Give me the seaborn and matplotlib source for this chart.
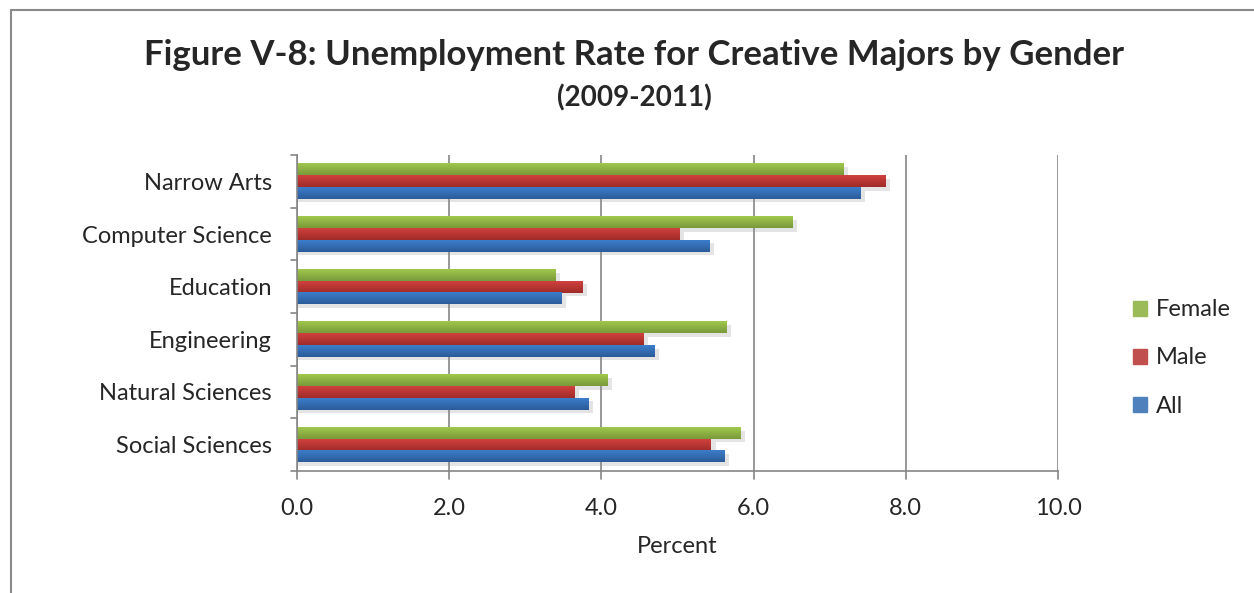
import numpy as np
import pandas as pd
import matplotlib
matplotlib.use("Agg")
import matplotlib.pyplot as plt
from matplotlib.colors import LinearSegmentedColormap
from matplotlib.lines import Line2D
import seaborn as sns

# Unemployment rate (%) by major and gender, 2009-2011
majors = ["Narrow Arts", "Computer Science", "Education",
          "Engineering", "Natural Sciences", "Social Sciences"]
female = [7.18, 6.51, 3.40, 5.64, 4.08, 5.83]
male = [7.73, 5.02, 3.75, 4.55, 3.65, 5.44]
all_grads = [7.40, 5.42, 3.48, 4.70, 3.83, 5.62]
groups = ["Female", "Male", "All"]
x_ticks = [0.0, 2.0, 4.0, 6.0, 8.0, 10.0]

df = pd.DataFrame({
    "Major": majors * 3,
    "Group": ["Female"] * 6 + ["Male"] * 6 + ["All"] * 6,
    "Rate": female + male + all_grads,
})

palette = {"Female": "#9BBB59", "Male": "#C0504D", "All": "#4F81BD"}
# top / bottom shades for the bar gradients
shades = {
    "Female": ("#a0c84c", "#7a993a"),
    "Male": ("#d0413e", "#a02b29"),
    "All": ("#3c7dca", "#2b5c9a"),
}

sns.set_theme(style="white")
plt.rcParams["font.family"] = ["Lato", "DejaVu Sans"]

fig = plt.figure(figsize=(12.54, 5.93), dpi=100)
ax = fig.add_axes([297 / 1254, 1 - 471 / 593, 761 / 1254, 316 / 593])

sns.barplot(data=df, y="Major", x="Rate", hue="Group", order=majors,
            hue_order=groups, palette=palette, orient="h", width=0.667,
            saturation=1, ax=ax, legend=True, edgecolor="none")

# vertical gradient + soft shadow on each bar
for container, g in zip(ax.containers, groups):
    cmap = LinearSegmentedColormap.from_list(g, [shades[g][0], shades[g][1]])
    for bar in container:
        x0, y0 = bar.get_x(), bar.get_y()
        w, h = bar.get_width(), bar.get_height()
        ax.add_patch(plt.Rectangle((x0, y0 + h * 0.3), w + 0.06, h,
                                   color="#c4c4c4", alpha=0.45, lw=0,
                                   zorder=bar.get_zorder() - 0.5))
        grad = np.linspace(0, 1, 64).reshape(-1, 1)
        ax.imshow(grad, cmap=cmap, aspect="auto",
                  extent=(x0, x0 + w, y0 + h, y0),
                  zorder=bar.get_zorder() + 0.1, interpolation="bilinear")

ax.set_xlim(0, 10)
ax.set_ylim(len(majors) - 0.5, -0.5)
ax.set_xticks(x_ticks)
ax.set_xticklabels([f"{v:.1f}" for v in x_ticks], fontsize=17)
ax.set_yticks(np.arange(len(majors)))
ax.set_yticklabels(majors, fontsize=17)
ax.tick_params(axis="y", length=0, pad=18)
ax.tick_params(axis="x", length=0, pad=19.5)
ax.set_xlabel("Percent", fontsize=17, labelpad=12)
ax.set_ylabel("")

# category separator ticks on the left axis, and ticks below the x axis
for yb in np.arange(-0.5, len(majors), 1.0):
    ax.plot([-0.08, 0], [yb, yb], color="#868686", lw=1.2,
            clip_on=False, zorder=5)
for xv in x_ticks:
    ax.plot([xv, xv], [len(majors) - 0.5, len(majors) - 0.5 + 0.15],
            color="#868686", lw=1.2, clip_on=False, zorder=5)

ax.grid(axis="x", color="#868686", lw=1.2)
ax.set_axisbelow(True)
for side in ["top", "right"]:
    ax.spines[side].set_visible(False)
for side in ["left", "bottom"]:
    ax.spines[side].set_color("#868686")
    ax.spines[side].set_linewidth(1.2)

handles = [plt.Rectangle((0, 0), 1, 1, color=palette[g]) for g in groups]
ax.get_legend().remove()
fig.legend(handles, groups, loc="center left",
           bbox_to_anchor=(1112 / 1254, 1 - 358 / 593), frameon=False,
           fontsize=17, handlelength=0.6, handleheight=0.6,
           handletextpad=0.35, labelspacing=1.15)

fig.text(0.5057, 1 - 55 / 593, "Figure V-8: Unemployment Rate for Creative Majors by Gender",
         ha="center", va="center", fontsize=25, fontweight="bold")
fig.text(0.5057, 1 - 98 / 593, "(2009-2011)", ha="center", va="center",
         fontsize=20, fontweight="bold")

# chart frame
fig.add_artist(Line2D([10.5 / 1254, 1.0], [1 - 9.5 / 593] * 2,
                      color="#8a8a8a", lw=1.5, transform=fig.transFigure))
fig.add_artist(Line2D([10.5 / 1254] * 2, [0.0, 1 - 9.5 / 593],
                      color="#8a8a8a", lw=1.5, transform=fig.transFigure))

fig.savefig("out.png", dpi=100, facecolor="white")
